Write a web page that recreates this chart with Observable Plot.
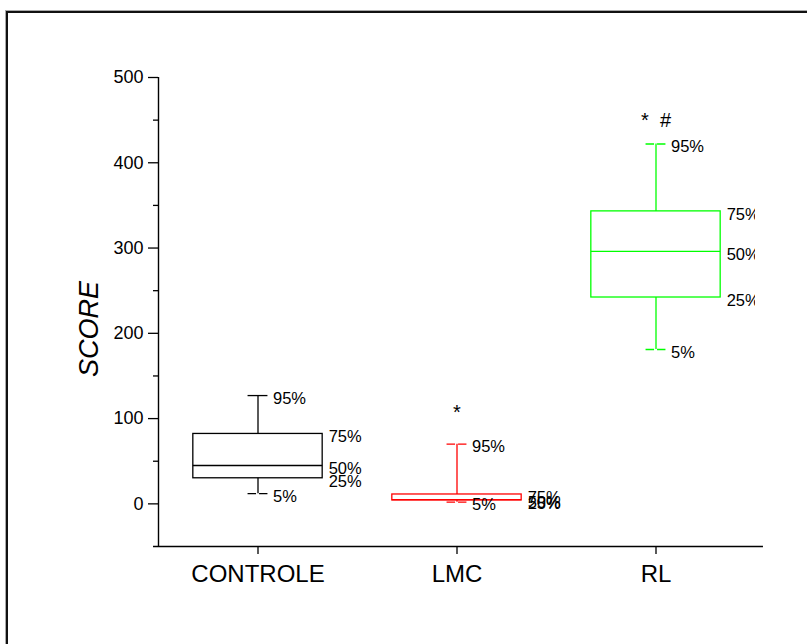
<!DOCTYPE html>
<html><head><meta charset="utf-8">
<script src="https://cdn.jsdelivr.net/npm/d3@7"></script>
<script src="https://cdn.jsdelivr.net/npm/@observablehq/plot@0.6"></script>
<style>
body{margin:0;background:#fff;}
#wrap{position:relative;width:807px;height:644px;overflow:hidden;background:#fff;}
#border{position:absolute;left:6px;top:11px;width:900px;height:700px;border-left:2px solid #111;border-top:2px solid #111;box-shadow:-1px -1px 0 #aaa;}
#wrap svg{position:absolute;left:0;top:0;}
</style></head><body><div id="wrap"><div id="border"></div></div>
<script>
// data
const groups = ["CONTROLE", "LMC", "RL"];
const p5  = [12, 2, 181];
const p25 = [30, 4, 242];
const p50 = [45, 5, 296];
const p75 = [82, 11, 343];
const p95 = [127, 70, 422];
const colors = ["#000000", "#ff0000", "#00ff00"];
const annotations = ["", "*", "*  #"];
const annotationY = [null, 107, 450];
const yTicks = [0, 100, 200, 300, 400, 500];
const yMinor = [50, 150, 250, 350, 450];
const yLabel = "SCORE";

const rows = groups.map((g, i) => ({i, g, p5: p5[i], p25: p25[i], p50: p50[i], p75: p75[i], p95: p95[i], c: colors[i]}));
const caps = rows.flatMap(d => [
  {i: d.i, y: d.p95, c: d.c, label: "95%", solid: d.i === 0},
  {i: d.i, y: d.p5, c: d.c, label: "5%", solid: false}
]);
const boxLabels = rows.flatMap(d => [
  {i: d.i, y: d.p75, label: "75%"},
  {i: d.i, y: d.p50, label: "50%"},
  {i: d.i, y: d.p25, label: "25%"}
]);
const notes = groups.map((g, i) => ({i, t: annotations[i], y: annotationY[i]})).filter(d => d.t);

const hw = 0.325, cw = 0.05, sw = 1.3;
const font = "'Liberation Sans', Arial, Helvetica, sans-serif";

const chart = Plot.plot({
  width: 807, height: 644,
  marginTop: 77, marginBottom: 98, marginLeft: 158, marginRight: 52,
  style: {fontFamily: font, background: "transparent", color: "#000"},
  x: {domain: [-0.5, 2.5]},
  y: {domain: [-50, 500]},
  color: {type: "identity"},
  marks: [
    Plot.ruleY([-50], {x1: -0.525, x2: 2.54, stroke: "#000", strokeWidth: 1.4}),
    Plot.ruleX([-0.5], {y1: -50, y2: 500, stroke: "#000", strokeWidth: 1.4}),
    Plot.axisY({ticks: yTicks, tickSize: 10, tickPadding: 5, fontSize: 18, label: null, strokeWidth: 1.3}),
    Plot.axisY({ticks: yMinor, tickSize: 5, tickFormat: () => "", label: null, strokeWidth: 1.3}),
    Plot.axisX({ticks: [0, 1, 2], tickFormat: i => groups[i], tickSize: 8, tickPadding: 10, fontSize: 24, label: null, strokeWidth: 1.3}),
    Plot.text([yLabel], {x: -0.5, y: 205, text: d => d, rotate: -90, dx: -69, fontSize: 27, fontStyle: "italic"}),
    // whiskers
    Plot.ruleX(rows, {x: "i", y1: "p5", y2: "p25", stroke: "c", strokeWidth: sw}),
    Plot.ruleX(rows, {x: "i", y1: "p75", y2: "p95", stroke: "c", strokeWidth: sw}),
    // boxes
    Plot.rect(rows, {x1: d => d.i - hw, x2: d => d.i + hw, y1: "p25", y2: "p75", fill: "none", stroke: "c", strokeWidth: sw}),
    Plot.ruleY(rows, {y: "p50", x1: d => d.i - hw, x2: d => d.i + hw, stroke: "c", strokeWidth: sw}),
    // caps
    Plot.ruleY(caps.filter(d => d.solid), {y: "y", x1: d => d.i - cw, x2: d => d.i + cw, stroke: "c", strokeWidth: sw}),
    Plot.ruleY(caps.filter(d => !d.solid), {y: "y", x1: d => d.i - cw, x2: d => d.i + cw, stroke: "c", strokeWidth: sw, strokeDasharray: "8.5,3"}),
    // labels
    Plot.text(caps, {x: d => d.i + cw, y: "y", text: "label", textAnchor: "start", dx: 5, dy: 3, fontSize: 16.5, clip: true}),
    Plot.text(boxLabels, {x: d => d.i + hw, y: "y", text: "label", textAnchor: "start", dx: 6, dy: 3, fontSize: 16.5, clip: true}),
    Plot.text(notes, {x: "i", y: "y", text: "t", fontSize: 20})
  ]
});
document.getElementById("wrap").appendChild(chart);
</script>
</body></html>
